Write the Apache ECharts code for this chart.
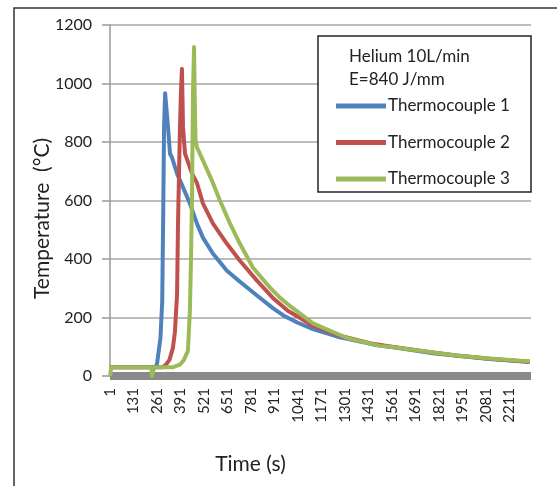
<!DOCTYPE html>
<html>
<head>
<meta charset="utf-8">
<script src="https://cdn.jsdelivr.net/npm/echarts@6/dist/echarts.min.js"></script>
<style>
  html, body { margin: 0; padding: 0; background: #fff; }
  #chart { width: 557px; height: 486px; }
</style>
</head>
<body>
<div id="chart"></div>
<script>
// time (s) and temperature (°C), one pair of arrays per thermocouple
const tc1Time = [1, 255, 262, 280, 290, 296, 300, 306, 312, 322, 333, 344, 372, 405, 443, 482, 515, 571, 648, 720, 814, 902, 960, 1040, 1124, 1273, 1456, 1550, 1788, 1920, 2100, 2324];
const tc1Temp = [30, 30, 45, 130, 257, 590, 850, 967, 965, 850, 760, 747, 692, 645, 590, 521, 473, 418, 360, 322, 275, 232, 207, 182, 160, 132, 108, 100, 78, 69, 58, 48];

const tc2Time = [1, 290, 310, 330, 349, 360, 372, 377, 383, 388, 394, 399, 405, 416, 455, 482, 515, 571, 648, 720, 814, 902, 985, 1124, 1273, 1456, 1550, 1788, 1920, 2100, 2324];
const tc2Temp = [30, 30, 38, 55, 96, 150, 280, 510, 700, 850, 980, 1050, 850, 760, 692, 660, 590, 521, 452, 394, 326, 267, 223, 172, 138, 110, 101, 80, 70, 59, 49];

const tc3Time = [1, 8, 230, 233, 242, 245, 350, 390, 410, 432, 443, 449, 455, 460, 466, 470, 474, 482, 515, 565, 609, 665, 720, 792, 886, 941, 985, 1124, 1312, 1494, 1550, 1788, 1920, 2100, 2324];
const tc3Temp = [0, 30, 30, 0, 0, 30, 30, 40, 55, 86, 223, 395, 624, 967, 1125, 940, 805, 782, 737, 668, 600, 521, 452, 370, 302, 268, 245, 180, 130, 103, 100, 80, 70, 60, 50];

const seriesNames = ['Thermocouple 1', 'Thermocouple 2', 'Thermocouple 3'];
const seriesColors = ['#4F81BD', '#C0504D', '#9BBB59'];
const legendHeader = ['Helium 10L/min', 'E=840 J/mm'];

function pairs(times, temps) {
  return times.map((t, i) => [t, temps[i]]);
}

const chart = echarts.init(document.getElementById('chart'));
const font = 'Lato, "Liberation Sans", sans-serif';

const option = {
  animation: false,
  textStyle: { fontFamily: font },
  grid: { left: 110, right: 26, top: 25, bottom: 110, outerBoundsMode: 'none' },
  title: {
    text: legendHeader.join('\n'),
    left: 344,
    top: 40,
    z: 6,
    textStyle: { fontFamily: font, fontSize: 17, fontWeight: 'normal', color: '#222', lineHeight: 23 }
  },
  legend: {
    orient: 'vertical',
    left: 331,
    top: 91,
    z: 6,
    icon: 'rect',
    itemWidth: 50,
    itemHeight: 5,
    itemGap: 16.5,
    data: seriesNames,
    textStyle: { fontFamily: font, fontSize: 17, color: '#222', lineHeight: 20, padding: [0, 0, 0, -3] }
  },
  graphic: [
    // chart-area border
    { type: 'rect', z: -1, silent: true, shape: { x: 14, y: 8, width: 700, height: 700 },
      style: { fill: 'none', stroke: '#333', lineWidth: 1.5 } },
    // legend box
    { type: 'rect', z: 5, silent: true, shape: { x: 318, y: 36, width: 213, height: 156 },
      style: { fill: '#fff', stroke: '#222', lineWidth: 1.5 } }
  ],
  xAxis: {
    type: 'value',
    min: 1,
    max: 2330,
    interval: 130,
    name: 'Time (s)',
    nameLocation: 'middle',
    nameGap: 78,
    nameMoveOverlap: false,
    nameTextStyle: { fontFamily: font, fontSize: 21, color: '#222', padding: [0, 140, 0, 0] },
    axisLine: { onZero: false, lineStyle: { color: '#8a8a8a', width: 8, cap: 'butt' } },
    axisTick: { show: false },
    splitLine: { show: false },
    axisLabel: { rotate: 90, margin: 12, fontSize: 15, color: '#222', showMaxLabel: false,
      formatter: v => String(v) }
  },
  yAxis: {
    type: 'value',
    min: 0,
    max: 1200,
    interval: 200,
    name: 'Temperature  (°C)',
    nameLocation: 'middle',
    nameGap: 57,
    nameMoveOverlap: false,
    nameTextStyle: { fontFamily: font, fontSize: 21, color: '#222', padding: [0, 36, 0, 0] },
    axisLine: { show: true, lineStyle: { color: '#999', width: 1.5 } },
    axisTick: { show: true, length: 8, lineStyle: { color: '#999', width: 1.5 } },
    splitLine: { lineStyle: { color: '#a6a6a6', width: 1.5 } },
    axisLabel: { margin: 18, fontSize: 16, color: '#222', formatter: v => String(v) }
  },
  series: [
    { name: seriesNames[0], type: 'line', data: pairs(tc1Time, tc1Temp) },
    { name: seriesNames[1], type: 'line', data: pairs(tc2Time, tc2Temp) },
    { name: seriesNames[2], type: 'line', data: pairs(tc3Time, tc3Temp) }
  ].map((s, i) => Object.assign(s, {
    showSymbol: false,
    symbol: 'none',
    color: seriesColors[i],
    lineStyle: { width: 4, color: seriesColors[i], join: 'round' }
  }))
};

chart.setOption(option);
</script>
</body>
</html>
